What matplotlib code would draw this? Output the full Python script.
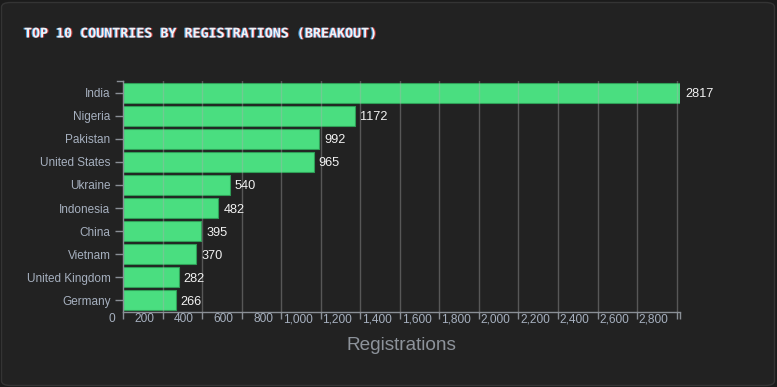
import matplotlib
matplotlib.use("Agg")
import matplotlib.pyplot as plt
import matplotlib.patheffects as pe
from matplotlib.patches import FancyBboxPatch
from matplotlib.transforms import ScaledTranslation, blended_transform_factory

countries = ["India", "Nigeria", "Pakistan", "United States", "Ukraine",
             "Indonesia", "China", "Vietnam", "United Kingdom", "Germany"]
registrations = [2817, 1172, 992, 965, 540, 482, 395, 370, 282, 266]
x_ticks = list(range(0, 2801, 200))

W, H = 777, 387
fig = plt.figure(figsize=(W / 100, H / 100), dpi=100)
fig.patch.set_facecolor("#1b1b1b")

# card background
card = FancyBboxPatch((1.5 / W, 1.5 / H), (W - 4) / W, (H - 4) / H,
                      boxstyle="round,pad=0,rounding_size=0.012",
                      transform=fig.transFigure, facecolor="#222222",
                      edgecolor="#343434", linewidth=1, zorder=-5)
fig.patches.append(card)

left, right, top, bottom = 123, 680, 81, 312
ax = fig.add_axes([left / W, 1 - bottom / H, (right - left) / W, (bottom - top) / H])
ax.set_facecolor("none")
ax.set_zorder(2)

y = list(range(len(countries)))
ax.barh(y, registrations, height=0.87, color="#4ade80", edgecolor="#2f9e57",
        linewidth=0.8, zorder=2)
ax.set_xlim(0, max(registrations))
ax.set_ylim(len(countries) - 0.5, -0.5)

# gridlines drawn over the bars
for v in x_ticks[1:]:
    ax.axvline(v, color="#b0b0b0", alpha=0.38, lw=1, zorder=3)

axis_col = "#8a8f96"
label_col = "#a6b0bf"
for s in ["top", "right"]:
    ax.spines[s].set_visible(False)
for s in ["left", "bottom"]:
    ax.spines[s].set_color(axis_col)
    ax.spines[s].set_linewidth(1)

ax.set_yticks(y)
ax.set_yticklabels(countries, fontsize=8.5, color=label_col, family="Liberation Sans")
ax.tick_params(axis="y", length=6, width=1, color=axis_col, pad=3)
ax.set_xticks(x_ticks + [max(registrations)])
ax.set_xticklabels([])
ax.tick_params(axis="x", length=5, width=1, color=axis_col)

# domain end tick at top of y-axis
ax.plot([-6 / 557 * max(registrations), 0], [-0.5, -0.5], color=axis_col, lw=1,
        clip_on=False)

# x tick labels sit left of their ticks
tr = blended_transform_factory(ax.transData, ax.transAxes) + \
    ScaledTranslation(-8 / 100, -1 / 100, fig.dpi_scale_trans)
for v in x_ticks:
    ax.text(v, 0, f"{v:,}", transform=tr, ha="right", va="top", fontsize=8.6,
            color=label_col, family="Liberation Sans")

# value labels
vt = ax.transData + ScaledTranslation(5 / 100, -1.5 / 100, fig.dpi_scale_trans)
for i, v in enumerate(registrations):
    ax.text(v, i, str(v), transform=vt, ha="left", va="center", fontsize=9.2,
            color="#f2f2f2", family="Liberation Sans", zorder=4)

fig.text((left + right) / 2 / W, 1 - 345 / H, "Registrations", ha="center",
         va="center", fontsize=13.7, color="#8d939b", family="Liberation Sans")

# title with a slight colour fringe
title = "TOP 10 COUNTRIES BY REGISTRATIONS (BREAKOUT)"
fig.text(24 / W, 1 - 34 / H, title, fontsize=9.6, family="DejaVu Sans Mono",
         weight="bold", color="#f2f2f2", va="center",
         path_effects=[pe.SimplePatchShadow(offset=(0.8, 0), shadow_rgbFace="#d0342c", alpha=0.9),
                       pe.SimplePatchShadow(offset=(-0.8, 0), shadow_rgbFace="#3fa9f5", alpha=0.9),
                       pe.Normal()])

fig.savefig("out.png", dpi=100, facecolor=fig.get_facecolor())
